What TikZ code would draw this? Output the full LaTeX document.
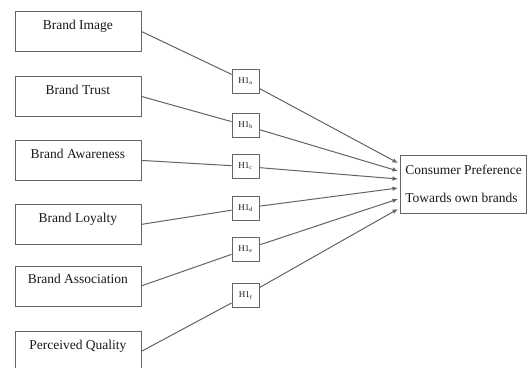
\documentclass[tikz,border=0pt]{standalone}
\usepackage{fontspec}
\setmainfont{Liberation Serif}
\usetikzlibrary{arrows.meta}
\definecolor{boxgray}{RGB}{100,100,100}
\definecolor{linegray}{RGB}{100,100,100}
\definecolor{ink}{RGB}{25,25,25}
\begin{document}
\begin{tikzpicture}[x=1pt,y=-1pt,
  src/.style={draw=boxgray, line width=0.8pt, minimum width=126pt, minimum height=40pt,
    inner xsep=2pt, inner ysep=4pt, text height=14pt, text depth=18pt,
    font=\fontsize{13.5}{16}\selectfont, text=ink, anchor=north west},
  hyp/.style={draw=boxgray, line width=0.8pt, minimum width=27pt, minimum height=24pt,
    inner sep=1pt, font=\fontsize{9}{10}\selectfont, text=ink},
  tgt/.style={draw=boxgray, line width=0.8pt, minimum width=126pt, minimum height=58pt,
    inner sep=2pt, align=left, font=\fontsize{13.5}{28}\selectfont, text=ink},
  link/.style={draw=linegray, line width=1pt},
  arr/.style={link, -{Latex[length=5.5pt,width=4.5pt]}}]
\useasboundingbox (0,0) rectangle (527,367);
\clip (0,0) rectangle (527,367);
\fill[white] (0,0) rectangle (527,367);

\node[src] (bi) at (14.5,11) {Brand Image};
\node[src] (bt) at (14.5,76) {Brand Trust};
\node[src] (ba) at (14.5,140) {Brand Awareness};
\node[src] (bl) at (14.5,204) {Brand Loyalty};
\node[src] (bs) at (14.5,265.5) {Brand Association};
\node[src] (pq) at (14.5,331) {Perceived Quality};

\node[hyp] (ha) at (245.5,81) {H1\textsubscript{a}};
\node[hyp] (hb) at (245.5,125.5) {H1\textsubscript{b}};
\node[hyp] (hc) at (245.5,166.5) {H1\textsubscript{c}};
\node[hyp] (hd) at (245.5,208) {H1\textsubscript{d}};
\node[hyp] (he) at (245.5,249.5) {H1\textsubscript{e}};
\node[hyp] (hf) at (245.5,295.5) {H1\textsubscript{f}};

\node[tgt] (cp) at (463.6,184) {Consumer Preference\\Towards own brands};

\coordinate (ta) at (398,163);
\coordinate (tb) at (398,171);
\coordinate (tc) at (398,179);
\coordinate (td) at (398,188);
\coordinate (te) at (398,199);
\coordinate (tf) at (398,209);

\draw[link] (bi.east) -- (ha);
\draw[link] (bt.east) -- (hb);
\draw[link] (ba.east) -- (hc);
\draw[link] (bl.east) -- (hd);
\draw[link] (bs.east) -- (he);
\draw[link] (pq.east) -- (hf);

\draw[arr] (ha) -- (ta);
\draw[arr] (hb) -- (tb);
\draw[arr] (hc) -- (tc);
\draw[arr] (hd) -- (td);
\draw[arr] (he) -- (te);
\draw[arr] (hf) -- (tf);
\end{tikzpicture}
\end{document}
